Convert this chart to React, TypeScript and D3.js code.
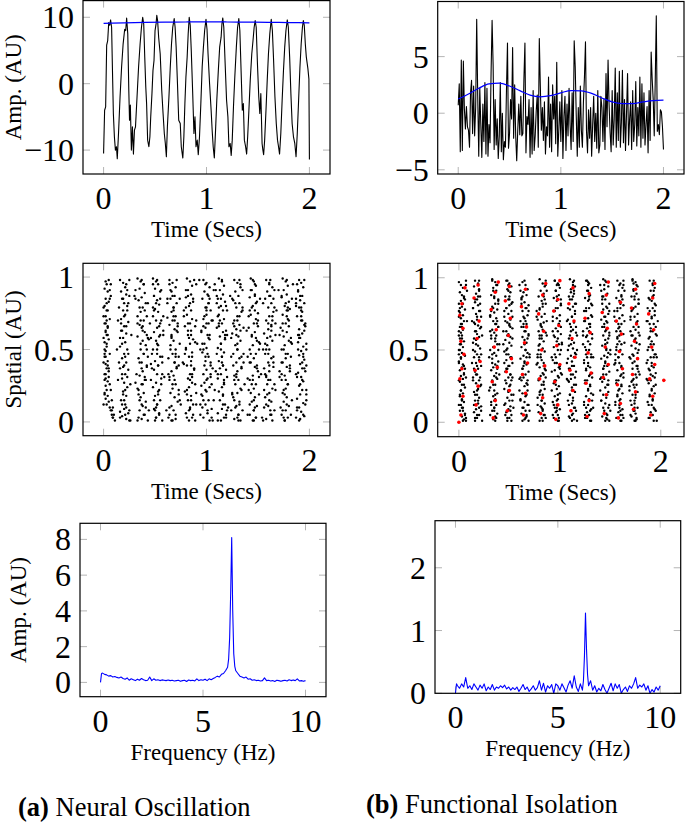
import React from "react";
import * as d3 from "d3";

const W = 685;
const H = 823;
const FONT = "Liberation Serif, DejaVu Serif, serif";

// ---------- (a) top: oscillating signal (time, amplitude) ----------
const oscTime = [0.000,0.010,0.020,0.030,0.040,0.050,0.060,0.068,0.078,0.085,0.095,0.105,0.115,0.125,0.133,0.145,0.160,0.175,0.190,0.205,0.215,0.224,0.235,0.245,0.252,0.260,0.270,0.280,0.290,0.300,0.310,0.325,0.340,0.355,0.368,0.380,0.390,0.400,0.410,0.418,0.428,0.440,0.450,0.458,0.470,0.480,0.490,0.500,0.510,0.517,0.525,0.535,0.550,0.565,0.578,0.590,0.600,0.610,0.620,0.635,0.648,0.660,0.672,0.686,0.695,0.705,0.718,0.730,0.745,0.755,0.770,0.780,0.790,0.800,0.812,0.822,0.832,0.842,0.852,0.865,0.878,0.888,0.898,0.910,0.920,0.932,0.945,0.958,0.970,0.982,0.995,1.005,1.015,1.030,1.045,1.055,1.065,1.076,1.088,1.100,1.115,1.128,1.142,1.150,1.158,1.168,1.180,1.195,1.208,1.218,1.230,1.240,1.250,1.262,1.275,1.290,1.302,1.314,1.324,1.336,1.348,1.358,1.368,1.380,1.390,1.400,1.412,1.425,1.440,1.452,1.463,1.473,1.483,1.495,1.508,1.518,1.528,1.540,1.548,1.555,1.565,1.578,1.590,1.602,1.615,1.629,1.640,1.652,1.665,1.678,1.690,1.700,1.710,1.722,1.735,1.748,1.760,1.772,1.785,1.795,1.808,1.820,1.832,1.845,1.858,1.870,1.882,1.895,1.908,1.920,1.932,1.941,1.950,1.960,1.970,1.985,1.995,2.000];
const oscAmp = [-10.5,-4.0,-3.5,5.8,6.5,9.2,8.8,9.6,8.5,3.0,-4.5,-8.0,-10.0,-9.5,-11.3,-7.5,-2.0,2.5,6.0,8.2,8.0,9.9,7.5,-1.0,-5.5,-3.2,-10.0,-6.5,-10.6,-7.0,-6.5,-2.0,2.5,6.0,8.5,10.0,9.0,4.0,-0.5,-3.0,-8.5,-9.5,-8.0,-5.0,-1.5,2.0,3.5,8.0,9.0,10.3,9.5,7.0,4.5,-1.0,-4.5,-7.5,-9.0,-11.0,-6.5,-2.0,2.5,6.0,8.5,9.8,8.5,5.5,0.0,-5.5,-6.0,-9.5,-11.2,-8.0,-3.0,1.0,4.0,7.5,10.0,8.8,5.0,-1.0,-7.5,-5.0,-9.5,-8.5,-10.7,-8.0,-3.0,2.5,5.5,8.0,9.7,8.2,4.5,0.0,-4.0,-7.0,-9.5,-11.2,-7.0,-2.5,2.0,5.5,7.0,9.0,9.9,8.5,3.5,-2.5,-5.0,-9.5,-9.0,-10.8,-8.5,-3.5,1.0,5.5,8.5,9.8,8.0,2.0,-4.0,-3.0,-8.5,-9.5,-10.6,-8.0,-4.0,0.5,4.5,6.5,8.5,9.5,8.5,3.0,-2.0,-4.5,-1.5,-9.0,-10.0,-10.7,-8.5,-4.0,0.5,4.5,7.5,9.7,8.0,3.5,-2.0,-6.0,-8.5,-9.5,-10.6,-7.5,-2.5,2.0,5.5,8.0,9.6,8.5,4.0,-1.5,-6.0,-8.0,-9.0,-11.0,-7.5,-2.5,2.5,6.0,8.5,9.5,8.8,6.0,4.0,2.3,0.7,-11.4];
const oscEnvTime = [0, 0.2, 0.4, 0.6, 0.8, 1.0, 1.2, 1.4, 1.6, 1.8, 2.0];
const oscEnvAmp = [9.07, 9.15, 9.22, 9.27, 9.29, 9.3, 9.29, 9.27, 9.24, 9.2, 9.17];

// ---------- (b) top: isolated signal, sampled every 0.01 s ----------
const isoAmp = [
  0.7, 2.6, -3.4, 4.7, -3.3, 4.6, 0.4, -1.4, 0.6, -1.2,
  -1.5, -3.0, 1.8, 2.9, -1.8, 2.4, -2.0, 0.5, 8.3, 1.5,
  -3.8, 2.2, -1.0, -3.9, 0.8, -2.5, 2.7, -3.6, 2.2, -3.8,
  -1.0, -2.6, 3.5, 8.2, 4.3, -3.2, 1.2, -2.8, -0.5, -4.0,
  -2.0, 2.7, -3.4, 0.0, -4.1, -2.5, -3.0, 2.0, 6.2, -3.1,
  -1.8, 1.2, -0.5, 5.8, -2.2, 2.5, -2.0, -4.2, -1.5, 0.8,
  -1.9, 1.5, -2.0, -1.8, 3.0, 6.2, -3.5, -0.3, -1.0, 1.2,
  -3.9, 0.5, -3.6, 2.0, -3.3, -2.0, 0.2, 1.6, -3.0, 6.6,
  2.4, -1.5, 0.5, -2.4, 1.0, -3.6, -1.2, -2.0, 3.2, -3.0,
  0.8, -3.4, 2.5, -0.5, 1.5, -2.7, 4.5, -3.8, -1.5, 1.0,
  -2.5, 2.0, -4.0, -0.3, 1.5, -3.3, 0.8, -2.0, 2.2, -1.0,
  -3.2, 1.8, -2.5, 6.4, 4.1, -0.2, -3.8, 0.5, -3.0, 2.4,
  -1.5, -3.0, 1.0, 3.2, 6.3, -1.6, -3.5, 0.3, -2.2, 0.5,
  -3.8, -1.0, 1.5, -2.5, 0.0, -3.1, 2.0, -3.5, -2.8, 1.5,
  0.5, -2.5, 1.2, -3.2, 3.5, -1.2, 4.7, 0.8, -1.7, -3.4,
  2.0, -2.8, -0.5, 4.0, -3.0, 1.8, -2.4, 3.7, -3.0, -0.8,
  3.8, -2.6, 1.2, -3.3, 0.0, 3.5, -2.8, -0.5, 1.0, -3.2,
  2.0, -2.5, -1.0, 2.8, -2.9, 0.5, -2.0, 3.2, -3.0, 2.6,
  -2.2, 1.8, -2.8, -1.0, 0.6, -3.5, 2.0, -2.4, 5.4, 3.0,
  1.2, -2.0, 3.0, 8.6, -1.6, -1.0, -1.9, 0.3, 0.1, -1.2,
  -3.2,
];
const isoEnvTime = [0,0.1,0.2,0.3,0.4,0.5,0.6,0.7,0.8,0.9,1.0,1.1,1.2,1.3,1.4,1.5,1.6,1.7,1.8,1.9,2.0];
const isoEnvAmp = [1.25,1.7,2.2,2.6,2.65,2.4,2.0,1.6,1.45,1.55,1.8,2.0,1.98,1.75,1.35,1.0,0.85,0.85,1.0,1.12,1.15];

// ---------- middle: spike rasters, pairs [time*100, spatial*100] ----------
const rasterA = [
  2,97,3,95,1,92,4,90,2,85,5,83,1,80,3,77,2,73,6,71,1,68,4,65,2,62,3,60,5,57,1,55,3,52,2,49,6,47,1,45,4,42,2,40,3,37,5,35,1,33,2,30,4,28,2,25,3,22,1,20,4,18,2,16,5,14,6,10,8,5,3,12,7,8,9,3,
  16,98,19,96,21,93,17,90,22,88,18,85,20,82,23,80,19,77,21,74,17,71,24,69,20,66,18,63,22,61,19,58,21,55,16,52,23,50,20,47,18,44,22,41,19,38,24,36,21,33,18,30,20,27,23,24,19,21,22,18,17,15,21,12,20,9,24,6,18,4,22,2,25,1,16,7,
  33,99,36,97,39,95,35,92,40,89,37,86,34,84,41,82,38,79,36,76,42,73,39,70,35,67,37,65,40,62,33,59,38,56,41,53,36,50,39,47,34,44,37,41,42,38,38,35,35,32,40,29,37,26,33,23,39,20,36,17,41,14,38,11,35,8,40,5,37,2,43,1,31,27,44,57,
  48,99,51,97,53,95,50,92,55,90,49,87,52,84,54,81,50,78,53,76,48,73,51,70,55,68,52,65,49,62,54,59,51,56,53,53,48,50,52,47,55,45,50,42,53,39,49,36,52,33,56,30,51,27,48,24,53,21,50,18,55,15,52,12,49,9,54,6,51,3,57,1,46,40,58,60,
  64,98,67,96,70,93,66,90,69,87,65,85,71,82,68,79,66,76,70,73,67,70,64,67,69,64,72,62,66,59,68,56,65,53,70,50,67,47,63,44,69,41,71,38,66,35,68,32,64,29,70,26,67,23,65,20,69,17,72,14,66,11,68,8,64,5,70,2,67,1,73,45,62,72,74,85,
  81,99,84,97,86,94,82,91,85,88,80,86,87,83,83,80,85,77,81,74,86,71,84,68,79,66,85,63,82,60,87,57,84,54,80,51,86,48,83,45,85,42,81,39,88,36,84,33,82,30,86,27,83,24,79,21,85,18,82,15,87,12,84,9,80,6,86,3,83,1,89,55,78,40,90,20,
  97,98,100,96,103,93,98,90,101,88,96,85,102,82,99,79,104,77,100,74,97,71,102,68,99,65,95,62,101,60,103,57,98,54,100,51,96,48,102,45,99,42,104,39,100,36,97,33,101,30,98,27,103,24,100,21,96,18,102,15,99,12,105,9,101,6,97,3,103,1,94,50,106,70,95,25,
  112,99,115,97,117,94,113,91,116,88,111,85,118,83,114,80,116,77,112,74,117,71,115,68,110,65,116,62,113,59,118,57,114,54,111,51,117,48,115,45,112,42,116,39,119,36,114,33,111,30,117,27,115,24,112,21,116,18,113,15,118,12,115,9,111,6,117,3,114,1,120,60,109,35,119,80,
  127,98,130,96,133,93,128,90,131,87,126,84,132,82,129,79,134,76,130,73,127,70,132,67,129,64,125,61,131,59,133,56,128,53,130,50,126,47,132,44,129,41,134,38,130,35,127,32,131,29,128,26,133,23,130,20,126,17,132,14,129,11,135,8,131,5,127,2,133,1,124,45,136,65,125,20,
  143,99,146,97,148,94,144,91,147,88,142,86,149,83,145,80,147,77,143,74,148,71,146,68,141,65,147,62,144,59,149,56,145,53,142,50,148,47,146,44,143,41,147,38,150,35,145,32,142,29,148,26,146,23,143,20,147,17,144,14,149,11,146,8,142,5,148,3,145,1,151,55,140,30,150,75,
  158,98,161,96,164,93,159,90,162,87,157,85,163,82,160,79,165,76,161,73,158,70,163,67,160,64,156,61,162,59,164,56,159,53,161,50,157,47,163,44,160,41,165,38,161,35,158,32,162,29,159,26,164,23,161,20,157,17,163,14,160,11,166,8,162,5,158,2,164,1,155,50,167,68,156,22,
  174,99,177,97,179,94,175,91,178,88,173,86,180,83,176,80,178,77,174,74,179,71,177,68,172,65,178,62,175,59,180,56,176,53,173,50,179,47,177,44,174,41,178,38,181,35,176,32,173,29,179,26,177,23,174,20,178,17,175,14,180,11,177,8,173,5,179,3,176,1,182,55,171,35,181,78,
  190,98,192,96,194,93,189,90,193,87,191,84,195,82,190,79,193,76,188,73,192,70,195,67,190,64,193,61,191,58,189,55,194,52,192,49,190,46,195,43,191,40,193,37,189,34,192,31,194,28,190,25,193,22,191,19,188,16,194,13,190,10,192,7,195,4,191,2,189,60,196,35,187,80,197,50,
];
const rasterAExtra = [
  0,12,7,87,2,45,9,3,4,66,1,29,6,91,3,54,8,8,0,73,5,37,4,60,1,19,7,95,0,41,3,82,10,5,2,68,6,26,1,50,8,15,4,77,2,33,5,98,0,58,7,22,3,70,9,10,1,47,6,85,2,63,11,1,4,39,0,79,5,31,
  14,29,23,91,18,54,25,8,20,73,16,37,27,60,19,19,22,95,15,41,24,82,21,5,17,68,26,26,13,50,20,15,23,77,18,33,25,98,16,58,21,22,14,70,22,10,24,47,19,85,17,63,26,1,20,39,15,79,23,31,18,12,25,87,21,45,16,3,22,66,
  39,5,33,68,38,26,42,50,35,15,40,77,32,33,37,98,43,58,34,22,36,70,41,10,39,47,31,85,38,63,33,1,42,39,35,79,40,31,37,12,30,87,43,45,34,3,38,66,41,29,31,91,36,54,44,8,33,73,37,37,42,60,34,19,39,95,35,41,43,82,
  49,77,57,33,52,98,46,58,54,22,56,70,51,10,47,47,55,85,58,63,50,1,53,39,48,79,59,31,52,12,49,87,57,45,51,3,54,66,46,29,56,91,52,54,50,8,58,73,47,37,55,60,53,19,48,95,57,41,51,82,54,5,45,68,56,26,52,50,49,15,
  62,85,71,63,66,1,73,39,68,79,64,31,75,12,67,87,70,45,63,3,72,66,69,29,65,91,74,54,61,8,68,73,71,37,66,60,73,19,64,95,69,41,62,82,70,5,72,68,67,26,65,50,74,15,68,77,63,33,71,98,66,58,73,22,69,70,64,10,70,47,
  86,31,80,79,85,39,89,1,82,63,87,85,79,47,84,10,90,70,81,22,83,58,88,98,86,33,78,77,85,15,80,50,89,26,82,68,87,5,84,82,77,41,90,95,81,19,85,60,88,37,78,73,83,8,91,54,80,91,84,29,89,66,81,3,86,45,82,87,90,12,
  97,50,105,26,100,68,94,5,102,82,104,41,99,95,95,19,103,60,106,37,98,73,101,8,96,54,107,91,100,29,97,66,105,3,99,45,102,87,94,12,104,31,100,79,98,39,106,1,95,63,103,85,101,47,96,10,105,70,99,22,102,58,93,98,104,33,100,77,97,15,
  116,12,110,87,115,45,119,3,112,66,117,29,109,91,114,54,120,8,111,73,113,37,118,60,116,19,108,95,115,41,110,82,119,5,112,68,117,26,114,50,107,15,120,77,111,33,115,98,118,58,108,22,113,70,121,10,110,47,114,85,119,63,111,1,116,39,112,79,120,31,
  127,29,135,91,130,54,124,8,132,73,134,37,129,60,125,19,133,95,136,41,128,82,131,5,126,68,137,26,130,50,127,15,135,77,129,33,132,98,124,58,134,22,130,70,128,10,136,47,125,85,133,63,131,1,126,39,135,79,129,31,132,12,123,87,134,45,130,3,127,66,
  140,5,149,68,144,26,151,50,146,15,142,77,153,33,145,98,148,58,141,22,150,70,147,10,143,47,152,85,139,63,146,1,149,39,144,79,151,31,142,12,147,87,140,45,148,3,150,66,145,29,143,91,152,54,146,8,141,73,149,37,144,60,151,19,147,95,142,41,148,82,
  158,31,166,79,161,39,155,1,163,63,165,85,160,47,156,10,164,70,167,22,159,58,162,98,157,33,168,77,161,15,158,50,166,26,160,68,163,5,155,82,165,41,161,95,159,19,167,60,156,37,164,73,162,8,157,54,166,91,160,29,163,66,154,3,165,45,161,87,158,12,
  179,77,173,33,178,98,182,58,175,22,180,70,172,10,177,47,183,85,174,63,176,1,181,39,179,79,171,31,178,12,173,87,182,45,175,3,180,66,177,29,170,91,183,54,174,8,178,73,181,37,171,60,176,19,184,95,173,41,177,82,182,5,174,68,179,26,175,50,183,15,
  187,85,195,63,190,1,197,39,192,79,188,31,196,12,191,87,194,45,187,3,196,66,193,29,189,91,197,54,188,8,192,73,195,37,190,60,197,19,188,95,193,41,187,82,194,5,196,68,191,26,189,50,197,15,192,77,187,33,195,98,190,58,197,22,193,70,188,10,194,47,
];

const rasterBBlack = [
  0,97,2,95,4,93,1,90,3,88,5,86,2,84,0,82,3,80,6,78,1,76,4,74,2,72,5,70,3,68,1,66,4,64,2,62,0,60,3,58,5,56,2,54,4,52,1,50,3,48,6,46,2,44,0,42,4,40,3,38,1,36,5,34,2,32,4,30,1,28,3,26,6,24,2,22,4,20,1,18,3,16,5,14,2,12,4,10,1,8,6,6,3,4,5,2,7,1,
  16,98,19,96,15,94,20,92,17,89,21,87,18,85,16,83,19,81,14,79,20,77,17,75,22,73,18,71,15,69,19,67,21,65,16,63,18,61,20,59,17,57,14,55,19,53,21,51,16,49,18,47,15,45,20,43,17,41,22,39,19,37,16,35,18,33,14,31,20,29,17,27,21,25,19,23,15,21,18,19,20,17,16,15,19,13,22,11,17,9,15,7,20,5,18,3,16,1,
  33,99,36,97,38,95,34,93,37,91,32,88,35,86,39,84,36,82,33,80,38,78,35,76,31,74,37,72,34,70,36,68,39,66,33,64,35,62,37,60,32,58,36,56,38,54,34,52,31,50,35,48,37,46,33,44,39,42,36,40,34,38,32,36,37,34,35,32,38,30,33,28,36,26,31,24,35,22,38,20,34,18,36,16,32,14,37,12,35,10,33,8,38,6,36,4,34,2,
  47,98,50,96,52,94,48,92,51,90,46,87,49,85,53,83,50,81,47,79,52,77,49,75,45,73,51,71,48,69,50,67,53,65,47,63,49,61,51,59,46,57,50,55,52,53,48,51,45,49,49,47,51,45,47,43,53,41,50,39,48,37,46,35,51,33,49,31,52,29,47,27,50,25,45,23,49,21,52,19,48,17,50,15,46,13,51,11,49,9,47,7,52,5,50,3,48,1,
  63,97,66,95,68,92,64,90,67,88,62,86,65,83,69,81,66,79,63,77,68,74,65,72,61,70,67,68,64,66,66,63,69,61,63,59,65,57,67,55,62,52,66,50,68,48,64,46,61,44,65,42,67,40,63,37,69,35,66,33,64,31,62,29,67,27,65,25,68,22,63,20,66,18,61,16,65,14,68,12,64,10,66,8,62,6,67,4,65,2,63,1,70,45,60,30,
  80,99,83,96,85,94,81,91,84,89,79,87,82,84,86,82,83,80,80,78,85,75,82,73,78,71,84,69,81,67,83,64,86,62,80,60,82,58,84,56,79,53,83,51,85,49,81,47,78,45,82,43,84,41,80,38,86,36,83,34,81,32,79,30,84,28,82,26,85,23,80,21,83,19,78,17,82,15,85,13,81,11,83,9,79,7,84,5,82,3,80,1,87,60,77,40,
  95,98,98,96,100,93,96,91,99,88,94,86,97,84,101,81,98,79,95,77,100,74,97,72,93,70,99,68,96,65,98,63,101,61,95,59,97,56,99,54,94,52,98,50,100,47,96,45,93,43,97,41,99,38,95,36,101,34,98,32,96,29,94,27,99,25,97,23,100,20,95,18,98,16,93,14,97,12,100,9,96,7,98,5,94,3,99,1,102,55,92,35,97,95,95,10,
  110,99,113,97,115,94,111,92,114,89,109,87,112,85,116,82,113,80,110,78,115,75,112,73,108,71,114,69,111,66,113,64,116,62,110,60,112,57,114,55,109,53,113,51,115,48,111,46,108,44,112,42,114,39,110,37,116,35,113,33,111,30,109,28,114,26,112,24,115,21,110,19,113,17,108,15,112,13,115,10,111,8,113,6,109,4,114,2,112,1,117,50,107,30,111,90,
  126,98,129,96,131,93,127,91,130,88,125,86,128,84,132,81,129,79,126,77,131,74,128,72,124,70,130,68,127,65,129,63,132,61,126,59,128,56,130,54,125,52,129,50,131,47,127,45,124,43,128,41,130,38,126,36,132,34,129,32,127,29,125,27,130,25,128,23,131,20,126,18,129,16,124,14,128,12,131,9,127,7,129,5,125,3,130,1,133,45,123,60,128,97,126,10,
  143,99,146,97,148,94,144,92,147,89,142,87,145,85,149,82,146,80,143,78,148,75,145,73,141,71,147,69,144,66,146,64,149,62,143,60,145,57,147,55,142,53,146,51,148,48,144,46,141,44,145,42,147,39,143,37,149,35,146,33,144,30,142,28,147,26,145,24,148,21,143,19,146,17,141,15,145,13,148,10,144,8,146,6,142,4,147,2,145,1,150,50,140,30,144,95,
  157,98,160,96,162,93,158,91,161,88,156,86,159,84,163,81,160,79,157,77,162,74,159,72,155,70,161,68,158,65,160,63,163,61,157,59,159,56,161,54,156,52,160,50,162,47,158,45,155,43,159,41,161,38,157,36,163,34,160,32,158,29,156,27,161,25,159,23,162,20,157,18,160,16,155,14,159,12,162,9,158,7,160,5,156,3,161,1,164,55,154,40,159,95,
  172,99,175,97,177,94,173,92,176,89,171,87,174,85,178,82,175,80,172,78,177,75,174,73,170,71,176,69,173,66,175,64,178,62,172,60,174,57,176,55,171,53,175,51,177,48,173,46,170,44,174,42,176,39,172,37,178,35,175,33,173,30,171,28,176,26,174,24,177,21,172,19,175,17,170,15,174,13,177,10,173,8,175,6,171,4,176,2,174,1,179,60,169,25,173,96,
  189,98,192,96,194,93,190,91,193,88,188,86,191,84,195,81,192,79,189,77,194,74,191,72,187,70,193,68,190,65,192,63,195,61,189,59,191,56,193,54,188,52,192,50,194,47,190,45,187,43,191,41,193,38,189,36,195,34,192,32,190,29,188,27,193,25,191,23,194,20,189,18,192,16,187,14,191,12,194,9,190,7,192,5,188,3,193,1,196,45,186,30,197,70,
];
const rasterBBlackExtra = [
  0,12,5,87,2,45,7,3,3,66,0,29,8,91,1,54,4,8,0,73,6,37,3,60,1,19,7,95,0,41,4,82,6,5,2,68,5,26,0,50,3,15,0,77,5,33,7,98,1,58,2,22,8,70,3,10,0,47,6,85,0,63,4,1,5,39,1,79,7,31,
  14,29,20,91,17,54,22,8,18,73,15,37,23,60,16,19,19,95,13,41,21,82,18,5,16,68,22,26,14,50,19,15,21,77,17,33,20,98,15,58,18,22,13,70,20,10,22,47,16,85,17,63,23,1,18,39,14,79,21,31,15,12,19,87,20,45,16,3,22,66,
  31,5,37,68,34,26,39,50,35,15,32,77,40,33,33,98,36,58,30,22,38,70,35,10,33,47,39,85,31,63,36,1,38,39,34,79,37,31,32,12,35,87,30,45,37,3,39,66,33,29,34,91,40,54,35,8,31,73,38,37,32,60,36,19,37,95,33,41,39,82,
  45,77,51,33,48,98,53,58,49,22,46,70,54,10,47,47,50,85,44,63,52,1,49,39,47,79,53,31,45,12,50,87,52,45,48,3,51,66,46,29,49,91,44,54,51,8,53,73,47,37,48,60,54,19,49,95,45,41,52,82,46,5,50,68,51,26,47,50,53,15,
  61,31,67,79,64,39,69,1,65,63,62,85,70,47,63,10,66,70,60,22,68,58,65,98,63,33,69,77,61,15,66,50,68,26,64,68,67,5,62,82,65,41,60,95,67,19,69,60,63,37,64,73,70,8,65,54,61,91,68,29,62,66,66,3,67,45,63,87,69,12,
  78,12,84,87,81,45,86,3,82,66,79,29,87,91,80,54,83,8,77,73,85,37,82,60,80,19,86,95,78,41,83,82,85,5,81,68,84,26,79,50,82,15,77,77,84,33,86,98,80,58,81,22,87,70,82,10,78,47,85,85,79,63,83,1,84,39,80,79,86,31,
  93,5,99,68,96,26,101,50,97,15,94,77,102,33,95,98,98,58,92,22,100,70,97,10,95,47,101,85,93,63,98,1,100,39,96,79,99,31,94,12,97,87,92,45,99,3,101,66,95,29,96,91,102,54,97,8,93,73,100,37,94,60,98,19,99,95,95,41,101,82,
  108,29,114,91,111,54,116,8,112,73,109,37,117,60,110,19,113,95,107,41,115,82,112,5,110,68,116,26,108,50,113,15,115,77,111,33,114,98,109,58,112,22,107,70,114,10,116,47,110,85,111,63,117,1,112,39,108,79,115,31,109,12,113,87,114,45,110,3,116,66,
  124,77,130,33,127,98,132,58,128,22,125,70,133,10,126,47,129,85,123,63,131,1,128,39,126,79,132,31,124,12,129,87,131,45,127,3,130,66,125,29,128,91,123,54,130,8,132,73,126,37,127,60,133,19,128,95,124,41,131,82,125,5,129,68,130,26,126,50,132,15,
  141,31,147,79,144,39,149,1,145,63,142,85,150,47,143,10,146,70,140,22,148,58,145,98,143,33,149,77,141,15,146,50,148,26,144,68,147,5,142,82,145,41,140,95,147,19,149,60,143,37,144,73,150,8,145,54,141,91,148,29,142,66,146,3,147,45,143,87,149,12,
  155,12,161,87,158,45,163,3,159,66,156,29,164,91,157,54,160,8,154,73,162,37,159,60,157,19,163,95,155,41,160,82,162,5,158,68,161,26,156,50,159,15,154,77,161,33,163,98,157,58,158,22,164,70,159,10,155,47,162,85,156,63,160,1,161,39,157,79,163,31,
  170,5,176,68,173,26,178,50,174,15,171,77,179,33,172,98,175,58,169,22,177,70,174,10,172,47,178,85,170,63,175,1,177,39,173,79,176,31,171,12,174,87,169,45,176,3,178,66,172,29,173,91,179,54,174,8,170,73,177,37,171,60,175,19,176,95,172,41,178,82,
  187,29,193,91,190,54,195,8,191,73,188,37,196,60,189,19,192,95,186,41,194,82,191,5,189,68,195,26,187,50,192,15,194,77,190,33,193,98,188,58,191,22,186,70,193,10,195,47,189,85,190,63,196,1,191,39,187,79,194,31,188,12,192,87,193,45,189,3,195,66,
];

const rasterBRed = [
  0,0,2,5,4,18,1,30,3,37,5,47,2,56,4,65,1,74,3,82,6,93,
  17,12,19,25,16,36,21,42,18,58,20,70,15,86,19,95,
  34,3,36,15,33,28,38,38,35,52,37,64,32,78,36,90,39,97,
  48,8,50,22,47,35,52,44,49,60,51,72,46,84,50,94,
  64,5,66,20,63,33,68,41,65,55,67,66,62,80,66,92,
  81,6,83,17,80,30,85,39,82,50,84,63,79,75,83,88,86,96,
  96,2,98,12,95,28,100,40,97,53,99,67,94,77,98,85,100,98,
  111,8,113,22,110,36,115,45,112,58,114,70,109,82,113,93,
  127,4,129,15,126,27,131,34,128,48,130,62,125,72,129,89,
  144,6,146,19,143,31,148,40,145,52,147,65,142,76,146,88,148,97,
  158,3,160,13,157,26,162,37,159,49,161,61,156,70,160,83,
  173,9,175,21,172,33,177,44,174,56,176,68,171,79,175,92,
  190,5,192,18,189,30,194,40,191,52,193,64,188,75,192,86,194,96,203,29,
];

// ---------- bottom: spectra ----------
const specFreqA = [0,0.05,0.1,0.2,0.3,0.4,0.5,0.6,0.7,0.8,0.9,1.0,1.1,1.2,1.3,1.4,1.5,1.6,1.7,1.8,1.9,2.0,2.1,2.2,2.3,2.4,2.5,2.6,2.7,2.8,2.9,3.0,3.1,3.2,3.3,3.4,3.5,3.6,3.7,3.8,3.9,4.0,4.1,4.2,4.3,4.4,4.5,4.6,4.7,4.8,4.9,5.0,5.1,5.2,5.3,5.4,5.5,5.6,5.7,5.8,5.9,6.0,6.1,6.2,6.25,6.3,6.35,6.4,6.45,6.5,6.55,6.6,6.7,6.8,6.9,7.0,7.1,7.2,7.3,7.4,7.5,7.6,7.7,7.8,7.9,8.0,8.1,8.2,8.3,8.4,8.5,8.6,8.7,8.8,8.9,9.0,9.1,9.2,9.3,9.4,9.5,9.6,9.7,9.8,9.9,10.0];
const specAmpA = [0.0,0.5,0.52,0.45,0.42,0.35,0.38,0.3,0.33,0.28,0.25,0.3,0.22,0.18,0.25,0.12,0.2,0.15,0.1,0.18,0.12,0.22,0.15,0.1,0.12,0.3,0.1,0.2,0.12,0.15,0.1,0.14,0.12,0.1,0.13,0.1,0.12,0.08,0.1,0.12,0.06,0.1,0.12,0.05,0.13,0.1,0.12,0.08,0.2,0.1,0.15,0.12,0.18,0.1,0.2,0.15,0.22,0.28,0.35,0.3,0.45,0.5,0.65,0.85,1.3,2.5,5.0,8.1,4.0,1.6,0.9,0.65,0.5,0.35,0.3,0.25,0.3,0.18,0.2,0.12,0.15,0.1,0.12,0.08,0.1,0.25,0.1,0.12,0.08,0.1,0.05,0.12,0.1,0.06,0.1,0.12,0.08,0.15,0.1,0.14,0.1,0.2,0.08,0.1,0.06,0.1];
const specFreqB = [0,0.05,0.1,0.2,0.3,0.4,0.5,0.6,0.7,0.8,0.9,1.0,1.1,1.2,1.3,1.4,1.5,1.6,1.7,1.8,1.9,2.0,2.1,2.2,2.3,2.4,2.5,2.6,2.7,2.8,2.9,3.0,3.1,3.2,3.3,3.4,3.5,3.6,3.7,3.8,3.9,4.0,4.1,4.2,4.3,4.4,4.5,4.6,4.7,4.8,4.9,5.0,5.1,5.2,5.3,5.4,5.5,5.6,5.7,5.8,5.9,6.0,6.1,6.2,6.25,6.3,6.35,6.4,6.45,6.5,6.6,6.7,6.8,6.9,7.0,7.1,7.2,7.3,7.4,7.5,7.6,7.7,7.8,7.9,8.0,8.1,8.2,8.3,8.4,8.5,8.6,8.7,8.8,8.9,9.0,9.1,9.2,9.3,9.4,9.5,9.6,9.7,9.8,9.9,10.0];
const specAmpB = [0.0,0.15,0.12,0.08,0.15,0.1,0.25,0.08,0.12,0.06,0.15,0.1,0.05,0.13,0.08,0.15,0.04,0.1,0.06,0.14,0.05,0.1,0.08,0.12,0.09,0.13,0.07,0.1,0.05,0.09,0.06,0.1,0.03,0.08,0.14,0.06,0.1,0.03,0.07,0.12,0.05,0.09,0.2,0.05,0.16,0.02,0.12,0.08,0.14,0.0,0.15,0.12,0.05,0.15,0.09,0.02,0.13,0.2,0.08,0.28,0.1,0.03,0.15,0.05,0.2,0.6,1.28,0.7,0.3,0.12,0.2,0.05,0.12,0.02,0.08,0.04,0.14,0.06,0.0,0.08,0.16,0.04,0.15,0.08,0.14,0.0,0.06,0.1,0.03,0.12,0.08,0.15,0.25,0.08,0.13,0.1,0.15,0.05,0.12,0.0,0.06,0.02,0.1,0.05,0.12];

// ---------- ticks & labels ----------
const timeTicks = [0, 1, 2];
const ampTicksA = [-10, 0, 10];
const ampTicksB = [-5, 0, 5];
const spatialTicks = [0, 0.5, 1];
const freqTicks = [0, 5, 10];
const specTicksA = [0, 2, 4, 6, 8];
const specTicksB = [0, 1, 2];

const fmt = (v: number) => (v < 0 ? "\u2212" + Math.abs(v) : String(v));

type Box = { x0: number; x1: number; y0: number; y1: number };

const TICK_FS = 32;
const LABEL_FS = 23;

function Frame({ box, sx, sy, xticks, yticks, xlabel, ylabel, ylabelX, children }: any) {
  const tickLen = 7;
  const grey = "#b4b4b4";
  const cy = (box.y0 + box.y1) / 2;
  const cx = (box.x0 + box.x1) / 2;
  return (
    <g style={{ fontFamily: FONT }}>
      {xticks.map((t: number) => (
        <g key={"xt" + t}>
          <line x1={sx(t)} x2={sx(t)} y1={box.y1} y2={box.y1 - tickLen} stroke={grey} strokeWidth={1} />
          <line x1={sx(t)} x2={sx(t)} y1={box.y0} y2={box.y0 + tickLen} stroke={grey} strokeWidth={1} />
          <text x={sx(t)} y={box.y1 + 35} textAnchor="middle" fontSize={TICK_FS}>{fmt(t)}</text>
        </g>
      ))}
      {yticks.map((t: number) => (
        <g key={"yt" + t}>
          <line x1={box.x0} x2={box.x0 + tickLen} y1={sy(t)} y2={sy(t)} stroke={grey} strokeWidth={1} />
          <line x1={box.x1} x2={box.x1 - tickLen} y1={sy(t)} y2={sy(t)} stroke={grey} strokeWidth={1} />
          <text x={box.x0 - 9} y={sy(t) + 11} textAnchor="end" fontSize={TICK_FS}>{fmt(t)}</text>
        </g>
      ))}
      {children}
      <rect x={box.x0} y={box.y0} width={box.x1 - box.x0} height={box.y1 - box.y0} fill="none" stroke="#000" strokeWidth={1.2} />
      <text x={cx} y={box.y1 + 63} textAnchor="middle" fontSize={LABEL_FS}>{xlabel}</text>
      {ylabel ? (
        <text transform={`translate(${ylabelX},${cy}) rotate(-90)`} textAnchor="middle" fontSize={LABEL_FS}>{ylabel}</text>
      ) : null}
    </g>
  );
}

function pairs(arr: number[]) {
  const out: [number, number][] = [];
  for (let i = 0; i + 1 < arr.length; i += 2) out.push([arr[i] / 100, arr[i + 1] / 100]);
  return out;
}

export default function App() {
  const bA1: Box = { x0: 83, x1: 330, y0: 0.6, y1: 174 };
  const xA1 = d3.scaleLinear().domain([-0.2, 2.2]).range([bA1.x0, bA1.x1]);
  const yA1 = d3.scaleLinear().domain([-13.6, 12.6]).range([bA1.y1, 0]);
  const lineA1 = d3.line<number>().x((_, i) => xA1(oscTime[i])).y((d) => yA1(d));
  const envA1 = d3.line<number>().x((_, i) => xA1(oscEnvTime[i])).y((d) => yA1(d)).curve(d3.curveMonotoneX);

  const bB1: Box = { x0: 437.7, x1: 684, y0: 1.5, y1: 174 };
  const xB1 = d3.scaleLinear().domain([-0.2, 2.2]).range([bB1.x0, bB1.x1]);
  const yB1 = d3.scaleLinear().domain([-5.37, 9.87]).range([bB1.y1, bB1.y0]);
  const isoTime = isoAmp.map((_, i) => i / 100);
  const lineB1 = d3.line<number>().x((_, i) => xB1(isoTime[i])).y((d) => yB1(d));
  const envB1 = d3.line<number>().x((_, i) => xB1(isoEnvTime[i])).y((d) => yB1(d)).curve(d3.curveMonotoneX);

  const bA2: Box = { x0: 83, x1: 330, y0: 263.3, y1: 435.7 };
  const xA2 = d3.scaleLinear().domain([-0.2, 2.2]).range([bA2.x0, bA2.x1]);
  const yA2 = d3.scaleLinear().domain([-0.095, 1.095]).range([bA2.y1, bA2.y0]);

  const bB2: Box = { x0: 437.7, x1: 684, y0: 263.3, y1: 436.7 };
  const xB2 = d3.scaleLinear().domain([-0.21, 2.23]).range([bB2.x0, bB2.x1]);
  const yB2 = d3.scaleLinear().domain([-0.1, 1.1]).range([bB2.y1, bB2.y0]);

  const bA3: Box = { x0: 80, x1: 326, y0: 523.3, y1: 696.7 };
  const xA3 = d3.scaleLinear().domain([-1, 11]).range([bA3.x0, bA3.x1]);
  const yA3 = d3.scaleLinear().domain([-0.8, 8.9]).range([bA3.y1, bA3.y0]);
  const lineA3 = d3.line<number>().x((_, i) => xA3(specFreqA[i])).y((d) => yA3(d));

  const bB3: Box = { x0: 435, x1: 680.7, y0: 520.7, y1: 693.3 };
  const xB3 = d3.scaleLinear().domain([-1, 11]).range([bB3.x0, bB3.x1]);
  const yB3 = d3.scaleLinear().domain([0, 2.75]).range([bB3.y1, bB3.y0]);
  const lineB3 = d3.line<number>().x((_, i) => xB3(specFreqB[i])).y((d) => yB3(d));

  const ptsA = pairs(rasterA).concat(pairs(rasterAExtra));
  const ptsBK = pairs(rasterBBlack).concat(pairs(rasterBBlackExtra));
  const ptsBR = pairs(rasterBRed);

  return (
    <svg width={W} height={H} viewBox={`0 0 ${W} ${H}`} style={{ position: "absolute", left: 0, top: 0, background: "#fff", fontFamily: FONT }}>
      <rect x={0} y={0} width={W} height={H} fill="#fff" />

      <Frame box={bA1} sx={xA1} sy={yA1} xticks={timeTicks} yticks={ampTicksA} xlabel="Time (Secs)" ylabel="Amp. (AU)" ylabelX={21}>
        <path d={lineA1(oscAmp) || ""} fill="none" stroke="#000" strokeWidth={1.1} strokeLinejoin="round" />
        <path d={envA1(oscEnvAmp) || ""} fill="none" stroke="#0000ff" strokeWidth={1.2} />
      </Frame>

      <Frame box={bB1} sx={xB1} sy={yB1} xticks={timeTicks} yticks={ampTicksB} xlabel="Time (Secs)">
        <path d={lineB1(isoAmp) || ""} fill="none" stroke="#000" strokeWidth={1.1} strokeLinejoin="round" />
        <path d={envB1(isoEnvAmp) || ""} fill="none" stroke="#0000ff" strokeWidth={1.2} />
      </Frame>

      <Frame box={bA2} sx={xA2} sy={yA2} xticks={timeTicks} yticks={spatialTicks} xlabel="Time (Secs)" ylabel="Spatial (AU)" ylabelX={21}>
        {ptsA.map(([t, s], i) => (
          <circle key={i} cx={xA2(t)} cy={yA2(s)} r={1.2} fill="#000" />
        ))}
      </Frame>

      <Frame box={bB2} sx={xB2} sy={yB2} xticks={timeTicks} yticks={spatialTicks} xlabel="Time (Secs)">
        {ptsBK.map(([t, s], i) => (
          <circle key={i} cx={xB2(t)} cy={yB2(s)} r={1.2} fill="#000" />
        ))}
        {ptsBR.map(([t, s], i) => (
          <circle key={"r" + i} cx={xB2(t)} cy={yB2(s)} r={1.8} fill="#ff0000" />
        ))}
      </Frame>

      <Frame box={bA3} sx={xA3} sy={yA3} xticks={freqTicks} yticks={specTicksA} xlabel="Frequency (Hz)" ylabel="Amp. (AU)" ylabelX={26}>
        <path d={lineA3(specAmpA) || ""} fill="none" stroke="#0000ff" strokeWidth={1.1} strokeLinejoin="round" />
      </Frame>

      <Frame box={bB3} sx={xB3} sy={yB3} xticks={freqTicks} yticks={specTicksB} xlabel="Frequency (Hz)">
        <path d={lineB3(specAmpB) || ""} fill="none" stroke="#0000ff" strokeWidth={1.1} strokeLinejoin="round" />
      </Frame>

      <text x={18} y={816} fontSize={26.5}>
        <tspan fontWeight="bold">(a)</tspan> Neural Oscillation
      </text>
      <text x={366} y={813} fontSize={26.5}>
        <tspan fontWeight="bold">(b)</tspan> Functional Isolation
      </text>
    </svg>
  );
}
